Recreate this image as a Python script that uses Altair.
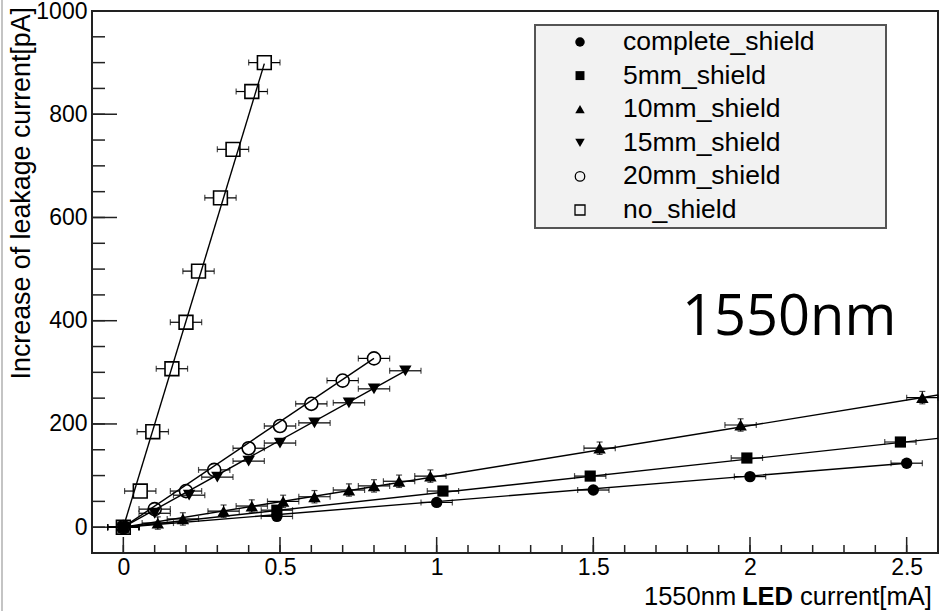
import altair as alt
import pandas as pd

# ---- measurements: LED current [mA] vs. increase of leakage current [pA] ----
series = ["complete_shield", "5mm_shield", "10mm_shield", "15mm_shield", "20mm_shield", "no_shield"]

complete_x = [0, 0.49, 1.00, 1.50, 2.00, 2.50]
complete_y = [0, 21, 48, 72, 98, 124]

mm5_x = [0, 0.49, 1.02, 1.49, 1.99, 2.48]
mm5_y = [0, 33, 70, 99, 134, 165]

mm10_x = [0, 0.11, 0.19, 0.32, 0.41, 0.51, 0.61, 0.72, 0.80, 0.88, 0.98, 1.52, 1.97, 2.55]
mm10_y = [0, 8, 16, 31, 41, 50, 59, 72, 80, 89, 99, 153, 198, 251]

mm15_x = [0, 0.10, 0.21, 0.30, 0.40, 0.50, 0.61, 0.72, 0.80, 0.90]
mm15_y = [0, 27, 62, 97, 128, 163, 202, 241, 268, 303]

mm20_x = [0, 0.10, 0.20, 0.29, 0.40, 0.50, 0.60, 0.70, 0.80]
mm20_y = [0, 35, 70, 111, 153, 196, 239, 284, 327]

noshield_x = [0, 0.054, 0.094, 0.155, 0.20, 0.24, 0.31, 0.35, 0.41, 0.45]
noshield_y = [0, 70, 185, 307, 397, 496, 638, 732, 844, 900]

# measurement uncertainties per series (x in mA, y in pA)
x_err = [0.05, 0.05, 0.05, 0.05, 0.05, 0.05]
y_err = [0, 0, 12, 0, 0, 0]

# end points of the linear fits (all fits start at the origin)
fit_x_end = [2.50, 2.60, 2.60, 0.90, 0.80, 0.45]
fit_y_end = [124, 172, 256, 303, 327, 898]

# axis ticks
x_major = [0, 0.5, 1, 1.5, 2, 2.5]
x_minor = [round(0.1 * i, 1) for i in range(-1, 27)]
y_major = [0, 200, 400, 600, 800, 1000]
y_minor = list(range(-50, 1001, 50))

xs = [complete_x, mm5_x, mm10_x, mm15_x, mm20_x, noshield_x]
ys = [complete_y, mm5_y, mm10_y, mm15_y, mm20_y, noshield_y]

# marker styles
shapes = ["circle", "square", "triangle-up", "triangle-down", "circle", "square"]
filled = [True, True, True, True, False, False]
sizes = [130, 125, 155, 155, 170, 190]
legend_sizes = [90, 80, 90, 90, 90, 100]

W, H = 846, 542
FONT = "Liberation Sans"

x_scale = alt.Scale(domain=[-0.1, 2.6], nice=False, zero=False)
y_scale = alt.Scale(domain=[-50, 1000], nice=False, zero=False)
x_axis = alt.Axis(values=x_major, format="~g", ticks=False, domain=False, grid=False,
                  labelFont=FONT, labelFontSize=23, labelColor="black", labelPadding=3,
                  title=None, labelFlush=False)
y_axis = alt.Axis(values=y_major, format="d", ticks=False, domain=False, grid=False,
                  labelFont=FONT, labelFontSize=23, labelColor="black", labelPadding=5,
                  title=None, labelFlush=False)


def X(field):
    return alt.X(field, type="quantitative", scale=x_scale, axis=x_axis)


def Y(field):
    return alt.Y(field, type="quantitative", scale=y_scale, axis=y_axis)


layers = []

# inward tick marks on the bottom and left frame edges
xmaj = pd.DataFrame({"v": x_major})
xmin = pd.DataFrame({"v": x_minor})
ymaj = pd.DataFrame({"v": y_major})
ymin = pd.DataFrame({"v": y_minor})
layers.append(alt.Chart(xmin).mark_rule(color="#222", strokeWidth=1.5).encode(
    x=X("v"), y=alt.value(H), y2=alt.value(H - 8)))
layers.append(alt.Chart(xmaj).mark_rule(color="#222", strokeWidth=1.5).encode(
    x=X("v"), y=alt.value(H), y2=alt.value(H - 16)))
layers.append(alt.Chart(ymin).mark_rule(color="#222", strokeWidth=1.5).encode(
    y=Y("v"), x=alt.value(0), x2=alt.value(13)))
layers.append(alt.Chart(ymaj).mark_rule(color="#222", strokeWidth=1.5).encode(
    y=Y("v"), x=alt.value(0), x2=alt.value(25)))

# open-marker series are drawn first so the solid markers stay on top at the origin
draw_order = [5, 4, 3, 2, 0, 1]

fit_layers = []
for i in draw_order:
    df = pd.DataFrame({"x": xs[i], "y": ys[i]})
    df["xlo"] = df["x"] - x_err[i]
    df["xhi"] = df["x"] + x_err[i]
    df["ylo"] = df["y"] - y_err[i]
    df["yhi"] = df["y"] + y_err[i]
    fit = pd.DataFrame({"x": [0, fit_x_end[i]], "y": [0, fit_y_end[i]]})

    base = alt.Chart(df)
    layers.append(base.mark_rule(color="black", strokeWidth=1.2).encode(
        x=X("xlo"), x2="xhi", y=Y("y")))
    for f in ["xlo", "xhi"]:
        layers.append(base.mark_tick(orient="vertical", size=6, thickness=1.2, color="black").encode(
            x=X(f), y=Y("y")))
    if y_err[i] > 0:
        layers.append(base.mark_rule(color="black", strokeWidth=1.2).encode(
            x=X("x"), y=Y("ylo"), y2="yhi"))
        for f in ["ylo", "yhi"]:
            layers.append(base.mark_tick(orient="horizontal", size=6, thickness=1.2, color="black").encode(
                x=X("x"), y=Y(f)))
    if filled[i]:
        pt = base.mark_point(shape=shapes[i], filled=True, fill="black", stroke="black",
                             strokeWidth=0, size=sizes[i], opacity=1)
    else:
        pt = base.mark_point(shape=shapes[i], filled=True, fill="white", stroke="black",
                             strokeWidth=1.6, size=sizes[i], opacity=1)
    layers.append(pt.encode(x=X("x"), y=Y("y")))
    fit_layers.append(alt.Chart(fit).mark_line(color="black", strokeWidth=1.4, clip=True).encode(
        x=X("x"), y=Y("y")))

# fitted lines are drawn over the markers
layers.extend(fit_layers)

# legend box
one = pd.DataFrame({"k": [0]})
layers.append(alt.Chart(one).mark_rect(fill="#f2f2f2", stroke="#555", strokeWidth=2).encode(
    x=alt.value(443), x2=alt.value(794), y=alt.value(14), y2=alt.value(217)))
for i, name in enumerate(series):
    ry = 31 + i * 33.6
    if filled[i]:
        sym = alt.Chart(one).mark_point(shape=shapes[i], filled=True, fill="black",
                                        strokeWidth=0, size=legend_sizes[i], opacity=1)
    else:
        sym = alt.Chart(one).mark_point(shape=shapes[i], filled=False, stroke="black",
                                        strokeWidth=1.3, size=legend_sizes[i], opacity=1)
    layers.append(sym.encode(x=alt.value(488), y=alt.value(ry)))
    layers.append(alt.Chart(one).mark_text(text=name, font=FONT, fontSize=26.5, align="left",
                                           baseline="middle", color="black").encode(
        x=alt.value(531), y=alt.value(ry)))

# wavelength annotation
layers.append(alt.Chart(one).mark_text(text="1550nm", font="Open Sans", fontSize=56,
                                       align="left", baseline="alphabetic", color="black").encode(
    x=alt.value(590), y=alt.value(324)))

# axis titles
layers.append(alt.Chart(one).mark_text(text="Increase of leakage current[pA]", font=FONT, fontSize=26.8,
                                       angle=270, align="right", baseline="middle", color="black").encode(
    x=alt.value(-70), y=alt.value(-4)))
title_parts = [("1550nm", "normal", 552), ("LED", "bold", 650), ("current[mA]", "normal", 708)]
for txt, wt, px in title_parts:
    layers.append(alt.Chart(one).mark_text(text=txt, font=FONT, fontSize=25.5, fontWeight=wt,
                                           align="left", baseline="alphabetic", color="black").encode(
        x=alt.value(px), y=alt.value(594)))

# thin grey edge on the left of the canvas
layers.append(alt.Chart(one).mark_rule(color="#c4c4c4", strokeWidth=2).encode(
    x=alt.value(-90), y=alt.value(-11), y2=alt.value(600)))

chart = alt.layer(*layers).properties(
    width=W, height=H,
    padding={"left": 92, "top": 11, "right": 11, "bottom": 58},
    autosize=alt.AutoSizeParams(type="none"),
    background="white",
).configure_view(stroke="#222", strokeWidth=2)

chart.save("out.html", embed_options={"renderer": "svg", "actions": False})
